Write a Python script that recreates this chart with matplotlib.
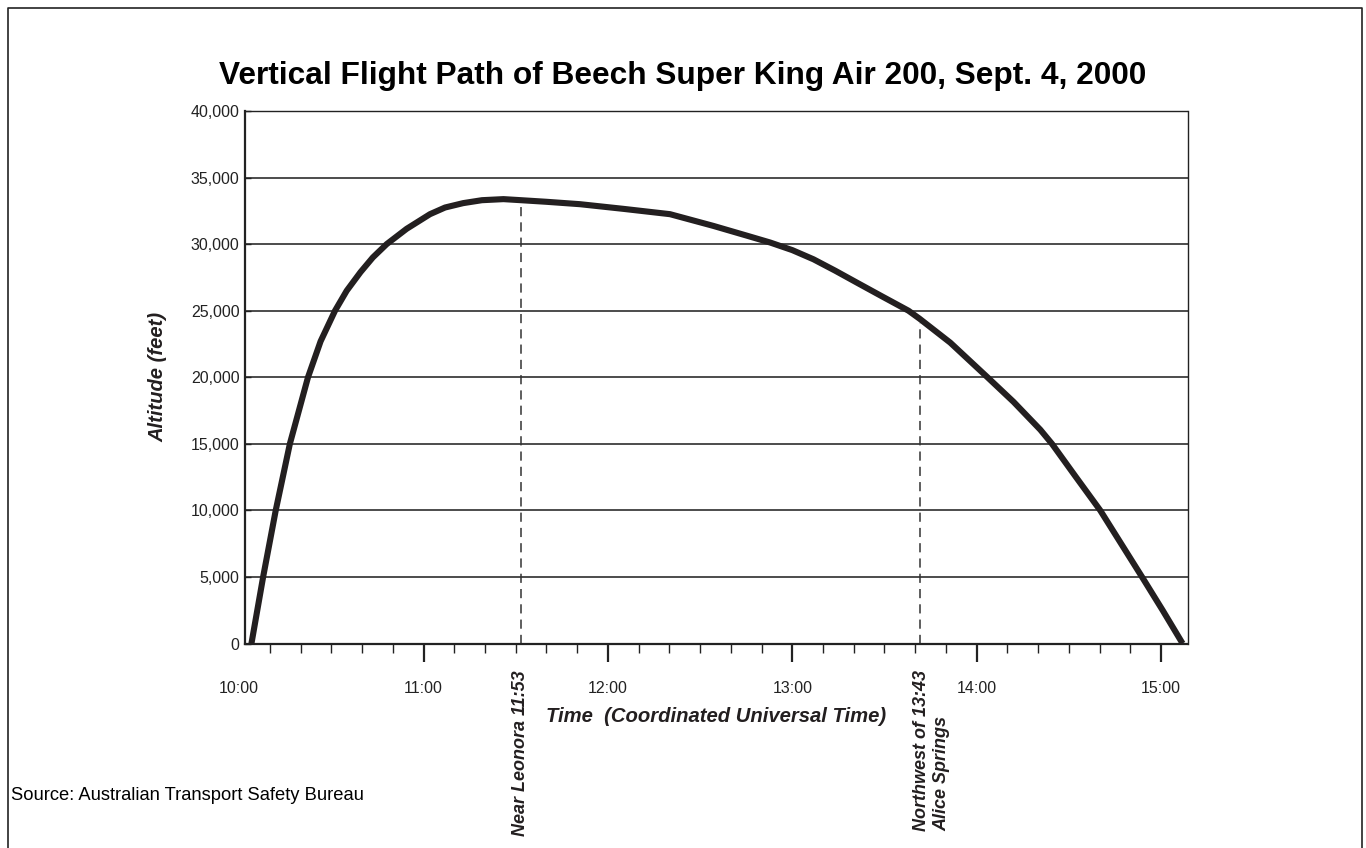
import matplotlib
matplotlib.use("Agg")
import matplotlib.pyplot as plt
import numpy as np
from matplotlib.ticker import MultipleLocator, FixedLocator, FixedFormatter
from matplotlib.lines import Line2D

# ---- data (time in minutes after 10:00 UTC, altitude in feet) ----
minutes_after_10 = [4.0, 7.8, 11.9, 16.5, 22.4, 26.5, 31.2, 35.0, 39.5, 43.5,
                    48.0, 54.5, 62.1, 67.0, 72.9, 79.0, 86.0, 91.7, 100.0,
                    110.9, 125.0, 140.2, 154.3, 165.0, 172.8, 180.0, 186.9,
                    194.0, 201.0, 209.0, 217.8, 221.4, 231.4, 243.5, 252.0,
                    260.7, 264.5, 272.0, 280.2, 287.0, 293.8, 300.5, 307.0]
altitude_ft = [0, 5000, 10000, 15000, 20000, 22700, 25000, 26500, 27900, 29000,
               30000, 31150, 32250, 32750, 33080, 33300, 33380, 33300, 33180,
               33000, 32650, 32250, 31370, 30650, 30120, 29550, 28860,
               28000, 27110, 26100, 25000, 24400, 22600, 20000, 18150,
               16060, 15000, 12600, 10000, 7500, 5000, 2500, 0]

event_minutes = [91.7, 221.4]
event_labels = ["Near Leonora 11:53", "Northwest of 13:43\nAlice Springs"]

y_ticks = [0, 5000, 10000, 15000, 20000, 25000, 30000, 35000, 40000]
y_tick_labels = ["0", "5,000", "10,000", "15,000", "20,000", "25,000",
                 "30,000", "35,000", "40,000"]
x_tick_minutes = [60, 120, 180, 240, 300]
x_tick_labels = ["11:00", "12:00", "13:00", "14:00", "15:00"]
first_tick_label = "10:00"

title = "Vertical Flight Path of Beech Super King Air 200, Sept. 4, 2000"
x_label = "Time  (Coordinated Universal Time)"
y_label = "Altitude (feet)"
source = "Source: Australian Transport Safety Bureau"

# ---- styling ----
REG = ["Liberation Sans", "DejaVu Sans"]
INK = "#231f20"

W, H = 1366, 848
fig = plt.figure(figsize=(W / 100, H / 100), dpi=100)
fig.patch.set_facecolor("white")

left_px, right_px, top_px, bottom_px = 245, 1187.5, 111, 643.5
ax = fig.add_axes([left_px / W, 1 - bottom_px / H,
                   (right_px - left_px) / W, (bottom_px - top_px) / H])

ax.set_xlim(1.9, 308.6)
ax.set_ylim(0, 40000)

# grid
for yv in y_ticks[1:-1]:
    ax.axhline(yv, color="#454545", lw=1.35, zorder=1)

# event dashed lines up to the flight path
xs = np.array(minutes_after_10)
ys = np.array(altitude_ft)
for m in event_minutes:
    top = np.interp(m, xs, ys)
    ax.plot([m, m], [0, top - 350], color="#333333", lw=1.1,
            dashes=(6, 4), zorder=2)

ax.plot(minutes_after_10, altitude_ft, color=INK, lw=4.4,
        solid_capstyle="butt", solid_joinstyle="round", zorder=3)

# spines
for s in ["top", "right"]:
    ax.spines[s].set_linewidth(1.0)
    ax.spines[s].set_color("#222222")
for s in ["bottom", "left"]:
    ax.spines[s].set_linewidth(1.6)
    ax.spines[s].set_color("#222222")

ax.yaxis.set_major_locator(FixedLocator(y_ticks))
ax.yaxis.set_major_formatter(FixedFormatter(y_tick_labels))
ax.xaxis.set_major_locator(FixedLocator(x_tick_minutes))
ax.xaxis.set_major_formatter(FixedFormatter(x_tick_labels))
ax.xaxis.set_minor_locator(MultipleLocator(10))

ax.tick_params(axis="x", which="major", direction="out", length=13, width=1.6,
               color="#222222", pad=14, labelsize=11.5, labelcolor="#222222")
ax.tick_params(axis="x", which="minor", direction="out", length=6.5, width=1.0,
               color="#222222")
ax.tick_params(axis="y", which="major", direction="in", length=4, width=1.0,
               color="#222222", pad=4, labelsize=11.5, labelcolor="#222222")
for lab in ax.get_xticklabels() + ax.get_yticklabels():
    lab.set_family(REG)

# 10:00 label (its tick lies just left of the plotted range)
ax.annotate(first_tick_label, xy=(0, 0), xycoords=("data", "axes fraction"),
            xytext=(0, -27), textcoords="offset points", ha="center", va="top",
            fontsize=11.5, family=REG, color="#222222", annotation_clip=False)

# axis labels
ax.set_xlabel(x_label, family=REG, fontsize=14.6, fontweight="bold",
              style="italic", color=INK, labelpad=8)
ax.set_ylabel(y_label, family=REG, fontsize=14.5, fontweight="bold",
              style="italic", color=INK, labelpad=17)

# event labels under the axis
ax.annotate(event_labels[0], xy=(event_minutes[0], 0),
            xycoords=("data", "axes fraction"), xytext=(0, -19),
            textcoords="offset points", rotation=90, ha="center", va="top",
            family=REG, fontsize=13, fontweight="bold", style="italic",
            color=INK, annotation_clip=False)
ax.annotate(event_labels[1], xy=(event_minutes[1], 0),
            xycoords=("data", "axes fraction"), xytext=(-5, -19),
            textcoords="offset points", rotation=90, ha="left", va="top",
            multialignment="left", linespacing=1.3,
            family=REG, fontsize=13, fontweight="bold", style="italic",
            color=INK, annotation_clip=False)

# title and source
fig.text(683 / W, 1 - 76 / H, title, ha="center", va="center",
         family=REG, fontsize=22.8, fontweight="bold", color="black")
fig.text(11 / W, 1 - 796 / H, source, ha="left", va="center",
         family=REG, fontsize=13.2, color="black")

# outer frame (left, top, right)
fx0, fx1, fy1 = 8 / W, 1362 / W, 1 - 8 / H
fig.add_artist(Line2D([fx0, fx0, fx1, fx1], [0, fy1, fy1, 0],
                      transform=fig.transFigure, color="#222222", lw=1.2))

fig.savefig("out.png", dpi=100, facecolor="white")
